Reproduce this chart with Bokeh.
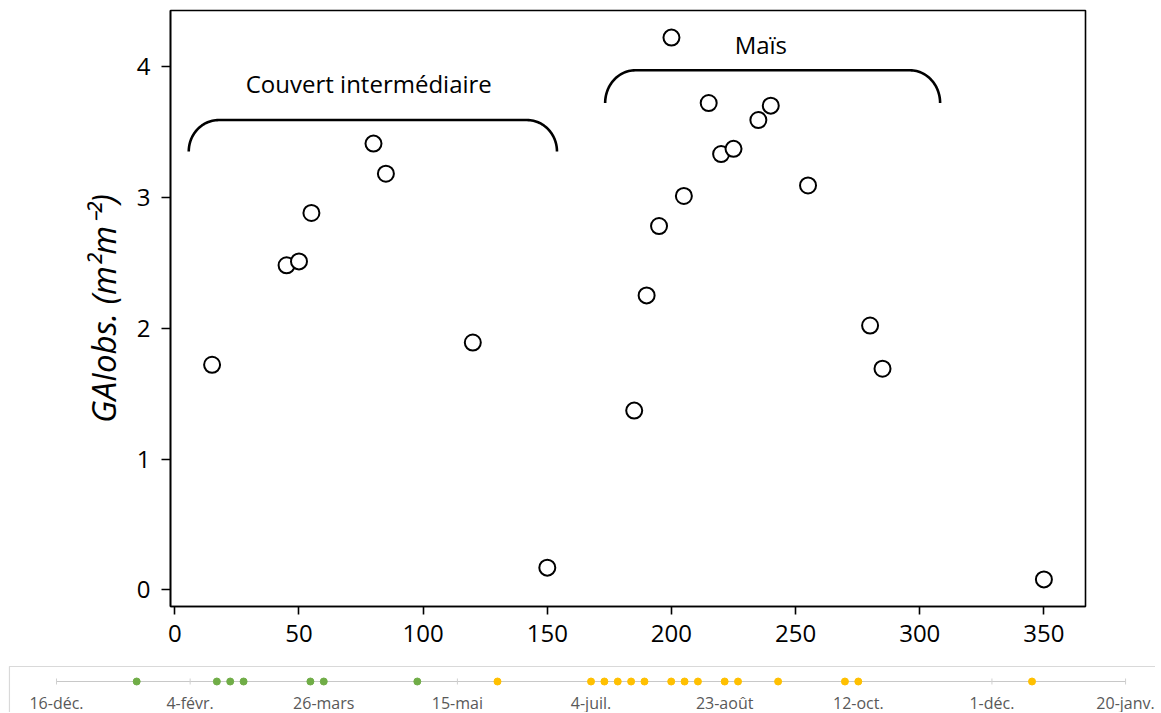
import numpy as np
from bokeh.plotting import figure
from bokeh.models import Range1d, FixedTicker, ColumnDataSource
from bokeh.core.properties import value
from bokeh.embed import file_html
from bokeh.resources import INLINE

# ---------------- data ----------------
days = [15, 45, 50, 55, 80, 85, 120, 150, 185, 190, 195, 200, 205, 215, 220,
        225, 235, 240, 255, 280, 285, 350]
gai = [1.72, 2.48, 2.51, 2.88, 3.41, 3.18, 1.89, 0.17, 1.37, 2.25, 2.78, 4.22,
       3.01, 3.72, 3.33, 3.37, 3.59, 3.70, 3.09, 2.02, 1.69, 0.08]
phase = ["couvert"] * 7 + ["mais"] * 15

x_ticks = [0, 50, 100, 150, 200, 250, 300, 350]
y_ticks = [0, 1, 2, 3, 4]

brace_labels = ["Couvert intermédiaire", "Maïs"]
brace_start = [5.6, 173.3]
brace_end = [153.9, 308.2]
brace_top = [3.59, 3.97]
brace_bottom = [3.35, 3.72]
label_x = [78.1, 236.0]
label_y = [3.87, 4.17]

strip_tick_days = [-15, 35, 85, 135, 185, 235, 285, 335, 385]
strip_tick_labels = ["16-déc.", "4-févr.", "26-mars", "15-mai", "4-juil.",
                     "23-août", "12-oct.", "1-déc.", "20-janv."]
phase_colors = {"couvert": "#70AD47", "mais": "#FFC000"}

FONT = "Open Sans"

# ---------------- main figure ----------------
p = figure(width=1150, height=658,
           x_range=Range1d(-1.75, 366.75), y_range=Range1d(-0.127, 4.427),
           output_backend="svg", toolbar_location=None,
           min_border_left=170, min_border_right=65,
           min_border_top=10, min_border_bottom=52)
p.xgrid.visible = False
p.ygrid.visible = False
p.outline_line_color = "black"
p.outline_line_width = 1.6
p.outline_line_alpha = 1.0
p.background_fill_color = "white"
p.border_fill_color = "white"

for ax, ticks in ((p.xaxis[0], x_ticks), (p.yaxis[0], y_ticks)):
    ax.ticker = FixedTicker(ticks=ticks)
    ax.axis_line_color = "black"
    ax.axis_line_width = 1.6
    ax.major_tick_line_color = "black"
    ax.major_tick_line_width = 1.6
    ax.major_tick_in = 0
    ax.minor_tick_line_color = None
    ax.major_label_text_font = FONT
    ax.major_label_text_font_size = "24px"
    ax.major_label_text_color = "black"

p.xaxis.major_tick_out = 8
p.yaxis.major_tick_out = 9
p.xaxis.major_label_standoff = 10
p.yaxis.major_label_standoff = 11
p.yaxis.axis_label = "GAIobs. (m²m⁻²)"
p.yaxis.axis_label_text_font = FONT
p.yaxis.axis_label_text_font_size = "33px"
p.yaxis.axis_label_text_font_style = "italic"
p.yaxis.axis_label_text_color = "black"
p.yaxis.axis_label_standoff = 8

p.scatter(days, gai, size=16, fill_color="white", line_color="black",
          line_width=2)

# braces
px_per_x = 915 / (366.75 + 1.75)
rx = 30 / px_per_x
for xs0, xs1, yt, yb in zip(brace_start, brace_end, brace_top, brace_bottom):
    ry = yt - yb
    t1 = np.linspace(np.pi, np.pi / 2, 30)
    t2 = np.linspace(np.pi / 2, 0, 30)
    bx = np.concatenate([xs0 + rx + rx * np.cos(t1), xs1 - rx + rx * np.cos(t2)])
    by = np.concatenate([yb + ry * np.sin(t1), yb + ry * np.sin(t2)])
    p.line(bx, by, line_color="black", line_width=2.6)

p.text(x=label_x, y=label_y, text=brace_labels, text_font=value(FONT),
       text_font_size="24px", text_align="center", text_baseline="middle",
       text_color="black")

# ---------------- timeline strip ----------------
s = figure(width=1155, height=54,
           x_range=Range1d(-35.95, 396.2), y_range=Range1d(54, 0),
           output_backend="svg", toolbar_location=None,
           min_border=0, min_border_left=0, min_border_right=0,
           min_border_top=0, min_border_bottom=0)
s.axis.visible = False
s.xgrid.visible = False
s.ygrid.visible = False
s.outline_line_color = None

# frame of the strip
s.line([-32.6, -32.6, 396.2], [54, 8, 8], line_color="#d9d9d9", line_width=1.2)
# timeline
s.line([strip_tick_days[0], strip_tick_days[-1]], [23, 23],
       line_color="#c8c8c8", line_width=1.2)
s.segment(x0=strip_tick_days, y0=[20] * 9, x1=strip_tick_days, y1=[26] * 9,
          line_color="#d0d0d0", line_width=1)
src = ColumnDataSource(dict(d=days, y=[23] * len(days),
                            c=[phase_colors[ph] for ph in phase]))
s.scatter("d", "y", source=src, size=7, fill_color="c", line_color="c")
s.text(x=strip_tick_days, y=[44] * 9, text=strip_tick_labels,
       text_font=value(FONT), text_font_size="16px", text_color="#595959",
       text_align="center", text_baseline="middle")

open("out.html", "w").write(file_html([p, s], INLINE))
